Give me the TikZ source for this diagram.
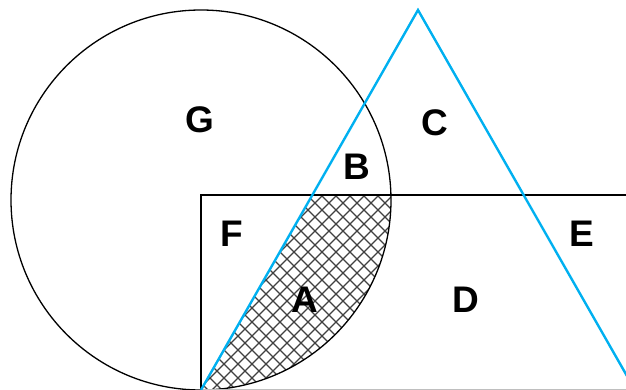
\documentclass[tikz,border=0pt]{standalone}
\usepackage{fontspec}
\setmainfont{Liberation Sans}
\definecolor{triblue}{RGB}{0,176,240}
\begin{document}
\begin{tikzpicture}[x=1pt,y=-1pt,
  lbl/.style={font=\fontsize{37}{37}\selectfont\bfseries, inner sep=0pt},
  blk/.style={draw=black, line width=1.3pt},
  tri/.style={draw=triblue, line width=2.4pt, line join=miter},
  hatch/.style={draw=black!75, line width=1.3pt}]
\useasboundingbox (0,0) rectangle (626,390);
\coordinate (O) at (201,200);
\coordinate (T) at (418,10);
\coordinate (L) at (201,390);
\coordinate (R) at (635,390);
% hatched region A
\begin{scope}
  \clip (O) circle (190);
  \clip (201,195) rectangle (700,400);
  \clip (T) -- (L) -- (R) -- cycle;
  \foreach \k in {-60,...,80} {
    \draw[hatch] (\k*14,0) -- ++(500,500);
    \draw[hatch] (\k*14,0) -- ++(-500,500);
  }
\end{scope}
\draw[blk] (O) circle (190);
\draw[blk] (640,195) -- (201,195) -- (201,390);
\draw[draw=black!25, line width=1.3pt] (201,389.5) -- (640,389.5);
\draw[tri] (L) -- (T) -- (R);
\node[lbl] (G) at (200,120) {G};
\node[lbl] (C) at (435,123) {C};
\node[lbl] (B) at (357,167) {B};
\node[lbl] (F) at (232,234) {F};
\node[lbl] (E) at (582,234) {E};
\node[lbl] (A) at (305,300) {A};
\node[lbl] (D) at (466,300) {D};
\end{tikzpicture}
\end{document}
